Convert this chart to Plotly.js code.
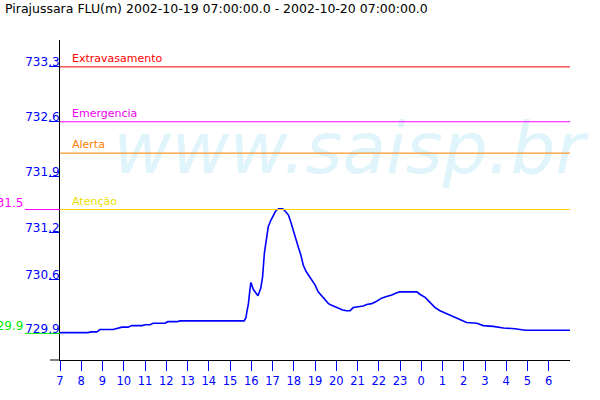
<!DOCTYPE html>
<html>
<head>
<meta charset="utf-8">
<script src="https://cdn.plot.ly/plotly-3.0.1.min.js"></script>
<style>html,body{margin:0;padding:0;background:#fff;}#chart{width:600px;height:400px;}</style>
</head>
<body>
<div id="chart"></div>
<script>
// ---- data ----
const times = [
 '2002-10-19 07:00','2002-10-19 08:19','2002-10-19 08:28','2002-10-19 08:44','2002-10-19 08:53',
 '2002-10-19 09:30','2002-10-19 09:38','2002-10-19 09:55','2002-10-19 10:12','2002-10-19 10:23',
 '2002-10-19 10:52','2002-10-19 11:00','2002-10-19 11:14','2002-10-19 11:23','2002-10-19 11:56',
 '2002-10-19 12:05','2002-10-19 12:30','2002-10-19 12:39','2002-10-19 15:40','2002-10-19 15:45',
 '2002-10-19 15:47','2002-10-19 15:52','2002-10-19 15:56','2002-10-19 15:59','2002-10-19 16:06',
 '2002-10-19 16:13','2002-10-19 16:19','2002-10-19 16:27','2002-10-19 16:32','2002-10-19 16:37',
 '2002-10-19 16:42','2002-10-19 16:48','2002-10-19 16:56','2002-10-19 17:02','2002-10-19 17:10',
 '2002-10-19 17:18','2002-10-19 17:29','2002-10-19 17:38','2002-10-19 17:45','2002-10-19 17:51',
 '2002-10-19 17:59','2002-10-19 18:06','2002-10-19 18:13','2002-10-19 18:20','2002-10-19 18:27',
 '2002-10-19 18:35','2002-10-19 18:41','2002-10-19 18:49','2002-10-19 19:00','2002-10-19 19:09',
 '2002-10-19 19:19','2002-10-19 19:28','2002-10-19 19:38','2002-10-19 19:47','2002-10-19 19:56',
 '2002-10-19 20:06','2002-10-19 20:18','2002-10-19 20:29','2002-10-19 20:39','2002-10-19 20:48',
 '2002-10-19 21:02','2002-10-19 21:16','2002-10-19 21:26','2002-10-19 21:40','2002-10-19 21:54',
 '2002-10-19 22:08','2002-10-19 22:22','2002-10-19 22:37','2002-10-19 22:51','2002-10-19 23:00',
 '2002-10-19 23:48','2002-10-19 23:56','2002-10-20 00:11','2002-10-20 00:25','2002-10-20 00:39',
 '2002-10-20 00:53','2002-10-20 01:12','2002-10-20 01:30','2002-10-20 01:49','2002-10-20 02:08',
 '2002-10-20 02:37','2002-10-20 02:55','2002-10-20 03:23','2002-10-20 03:52','2002-10-20 04:25',
 '2002-10-20 04:53','2002-10-20 07:00'
];
const levels = [
 729.91,729.91,729.92,729.92,729.95,
 729.95,729.96,729.98,729.98,730.00,
 730.00,730.01,730.01,730.03,730.03,
 730.05,730.05,730.06,730.06,730.10,
 730.16,730.28,730.45,730.55,730.46,
 730.41,730.38,730.48,730.62,730.92,
 731.09,731.26,731.35,731.41,731.47,
 731.49,731.49,731.45,731.41,731.33,
 731.22,731.11,731.00,730.90,730.77,
 730.69,730.65,730.60,730.52,730.43,
 730.38,730.33,730.28,730.26,730.24,
 730.22,730.20,730.19,730.19,730.23,
 730.24,730.25,730.27,730.28,730.31,
 730.35,730.37,730.39,730.42,730.43,
 730.43,730.40,730.36,730.29,730.23,
 730.19,730.15,730.11,730.07,730.04,
 730.03,730.00,729.99,729.97,729.96,
 729.94,729.94
];
const thresholdNames  = ['Extravasamento','Emergencia','Alerta','Atenção'];
const thresholdValues = [733.3, 732.6, 732.2, 731.48];
const thresholdLineColors = ['#ff0000','#ff00ff','#ff8000','#ffd400'];
const thresholdTextColors = ['#ff0000','#ee00ee','#ff8000','#e8e000'];
const yTickVals = [733.3, 732.6, 731.9, 731.185, 730.59, 729.9];
const yTickText = ['733.3','732.6','731.9','731.2','730.6','729.9'];
const xTickText = ['7','8','9','10','11','12','13','14','15','16','17','18','19','20','21','22','23','0','1','2','3','4','5','6'];
const startTime = '2002-10-19 07:00';
const endTime = '2002-10-20 07:00';
const minLevel = 729.9;
const atencaoLeftLabel = '731.5';
const minLeftLabel = '729.9';
const titleText = 'Pirajussara FLU(m) 2002-10-19 07:00:00.0 - 2002-10-20 07:00:00.0';

// ---- build ----
const FONT = 'DejaVu Sans, sans-serif';
const t0 = new Date(startTime.replace(' ','T')+':00Z').getTime();
function fmt(ms){const d=new Date(ms);const p=n=>String(n).padStart(2,'0');
 return d.getUTCFullYear()+'-'+p(d.getUTCMonth()+1)+'-'+p(d.getUTCDate())+' '+p(d.getUTCHours())+':'+p(d.getUTCMinutes());}
const xTickVals = xTickText.map((_,i)=>fmt(t0+i*3600000));

const traces = [
 { // watermark
  x:['2002-10-19 20:36'], y:[732.17], mode:'text', text:['www.saisp.br'],
  textposition:'middle center', hoverinfo:'skip', cliponaxis:false,
  textfont:{family:FONT, size:71, color:'#e0f4fc', style:'italic'}
 },
 {
  x:times, y:levels, mode:'lines', line:{color:'#0000ff', width:1.6}, hoverinfo:'x+y'
 }
];

const plotW = 510;
const shapes = thresholdValues.map((v,i)=>({
  type:'line', xref:'paper', x0:0, x1:1, yref:'y', y0:v, y1:v,
  line:{color:thresholdLineColors[i], width:1}
}));
shapes.push({type:'line', xref:'paper', x0:-35/plotW, x1:0, yref:'y', y0:thresholdValues[3], y1:thresholdValues[3], line:{color:'#ff00ff', width:1}});
shapes.push({type:'line', xref:'paper', x0:-35/plotW, x1:0, yref:'y', y0:minLevel, y1:minLevel, line:{color:'#00ee00', width:1}});
shapes.push({type:'line', xref:'paper', x0:-10/plotW, x1:0, yref:'paper', y0:0, y1:0, line:{color:'#000', width:1}});

const annotations = thresholdNames.map((n,i)=>({
  xref:'paper', x:10/plotW, xanchor:'left', yref:'y', y:thresholdValues[i], yanchor:'bottom',
  text:n, showarrow:false, font:{family:FONT, size:11, color:thresholdTextColors[i]}, yshift:0
}));
annotations.push({xref:'paper', x:-35/plotW, xanchor:'right', yref:'y', y:thresholdValues[3], yanchor:'bottom',
  text:atencaoLeftLabel, showarrow:false, font:{family:FONT, size:12, color:'#ff00ff'}, yshift:-2});
annotations.push({xref:'paper', x:-35/plotW, xanchor:'right', yref:'y', y:minLevel, yanchor:'bottom',
  text:minLeftLabel, showarrow:false, font:{family:FONT, size:12, color:'#00ee00'}, yshift:-2});

const layout = {
  width:600, height:400,
  margin:{l:60, r:30, t:40, b:40},
  paper_bgcolor:'#fff', plot_bgcolor:'#fff',
  showlegend:false,
  font:{family:FONT, color:'#000'},
  title:{text:titleText, xref:'container', x:5/600, xanchor:'left', yref:'container', y:1-9/400, yanchor:'middle',
         font:{family:FONT, size:12.5, color:'#000'}},
  xaxis:{type:'date', range:[startTime, endTime], showgrid:false, zeroline:false,
         showline:true, linecolor:'#000', linewidth:1,
         ticks:'outside', ticklen:10, tickcolor:'#0000ff', tickwidth:1,
         tickvals:xTickVals, ticktext:xTickText,
         tickfont:{family:FONT, size:11.5, color:'#0000ff'}},
  yaxis:{range:[729.561, 733.643], showgrid:false, zeroline:false,
         showline:true, linecolor:'#000', linewidth:1,
         ticks:'outside', ticklen:10, tickcolor:'#0000ff', tickwidth:1,
         tickvals:yTickVals, ticktext:yTickText,
         ticklabelstandoff:-13, ticklabelshift:-5,
         tickfont:{family:FONT, size:12, color:'#0000ff'}},
  shapes:shapes,
  annotations:annotations
};
Plotly.newPlot('chart', traces, layout, {displayModeBar:false, staticPlot:true});
</script>
</body>
</html>
